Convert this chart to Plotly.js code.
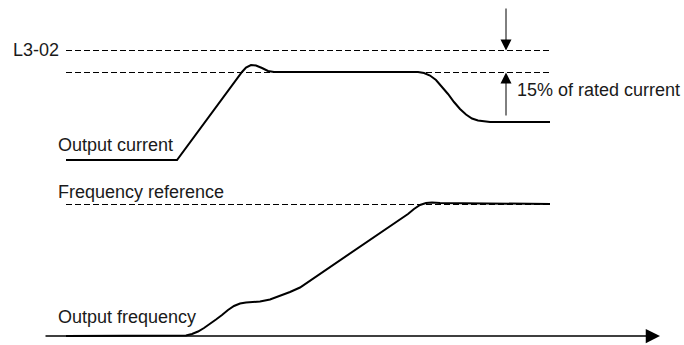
<!DOCTYPE html>
<html>
<head>
<meta charset="utf-8">
<script src="https://cdn.plot.ly/plotly-3.0.1.min.js"></script>
<style>html,body{margin:0;padding:0;background:#fff;}#chart{width:684px;height:345px;}</style>
</head>
<body>
<div id="chart"></div>
<script>
// Time axis (horizontal position) and signal levels (height above bottom)
const currentTime  = [66,177,242,246,251,256,262,268,274,418,424,430,436,442,448,454,460,466,472,478,484,490,550];
const currentLevel = [185,185,273,277.5,280,279.5,277,274,273,273,272,269.5,265,258.5,251,243,236,230.5,226.5,224.5,223.5,223,223];

const freqTime  = [66,180,186,192,198,204,210,216,222,228,234,240,246,252,260,270,280,290,300,320,340,360,380,400,408,414,420,426,432,440,550];
const freqLevel = [9,9,9.5,11,13.5,17,21,25.5,30,35,39,41.5,42.5,43,43.5,45.5,49,53,57.5,71,84.5,98,111.5,125,131,136,140,142,142.5,142,141];

const refTime = [66,550];
const l302Level = 294.5;       // L3-02 level
const ratedBandLevel = 272.5;  // L3-02 minus 15% of rated current
const freqRefLevel = 140.5;    // frequency reference
const axisLevel = 9;
const axisTime = [44,660];

const labels = {
  l302: "L3-02",
  current: "Output current",
  freqRef: "Frequency reference",
  freq: "Output frequency",
  band: "15% of rated current"
};

const black = "#000000";
const textColor = "#1a1a1a";
const fontFam = "Liberation Sans, Arial, sans-serif";

const dashed = {color: black, width: 1, dash: "6px,3px"};

const traces = [
  {x: refTime, y: [l302Level, l302Level], mode: "lines", line: dashed, hoverinfo: "skip"},
  {x: refTime, y: [ratedBandLevel, ratedBandLevel], mode: "lines", line: dashed, hoverinfo: "skip"},
  {x: refTime, y: [freqRefLevel, freqRefLevel], mode: "lines", line: dashed, hoverinfo: "skip"},
  {x: currentTime, y: currentLevel, mode: "lines", line: {color: black, width: 2}, hoverinfo: "skip"},
  {x: freqTime, y: freqLevel, mode: "lines", line: {color: black, width: 2}, hoverinfo: "skip"}
];

function label(text, x, y, xanchor) {
  return {text: text, x: x, y: y, xref: "x", yref: "y", xanchor: xanchor, yanchor: "middle",
          showarrow: false, borderpad: 0, font: {family: fontFam, size: 18, color: textColor}};
}
function arrow(x, y, ax, ay, w, size) {
  return {text: "", x: x, y: y, ax: ax, ay: ay, xref: "x", yref: "y", axref: "x", ayref: "y",
          showarrow: true, arrowhead: 2, arrowsize: size, arrowwidth: w, arrowcolor: black, standoff: 0};
}

const annotations = [
  label(labels.l302, 60, 345 - 49.5, "right"),
  label(labels.current, 57, 345 - 145, "left"),
  label(labels.freqRef, 57, 345 - 192, "left"),
  label(labels.freq, 57, 345 - 317, "left"),
  label(labels.band, 516, 345 - 90, "left"),
  arrow(506, l302Level, 506, 338, 1, 2.2),
  arrow(506, ratedBandLevel, 506, 228, 1, 2.2),
  arrow(axisTime[1], axisLevel, axisTime[0], axisLevel, 1.5, 1.9)
];

const layout = {
  width: 684, height: 345,
  margin: {l: 0, r: 0, t: 0, b: 0},
  paper_bgcolor: "#ffffff", plot_bgcolor: "#ffffff",
  showlegend: false,
  xaxis: {range: [0, 684], visible: false, fixedrange: true},
  yaxis: {range: [0, 345], visible: false, fixedrange: true},
  annotations: annotations
};

Plotly.newPlot("chart", traces, layout, {staticPlot: true, displayModeBar: false});
</script>
</body>
</html>
